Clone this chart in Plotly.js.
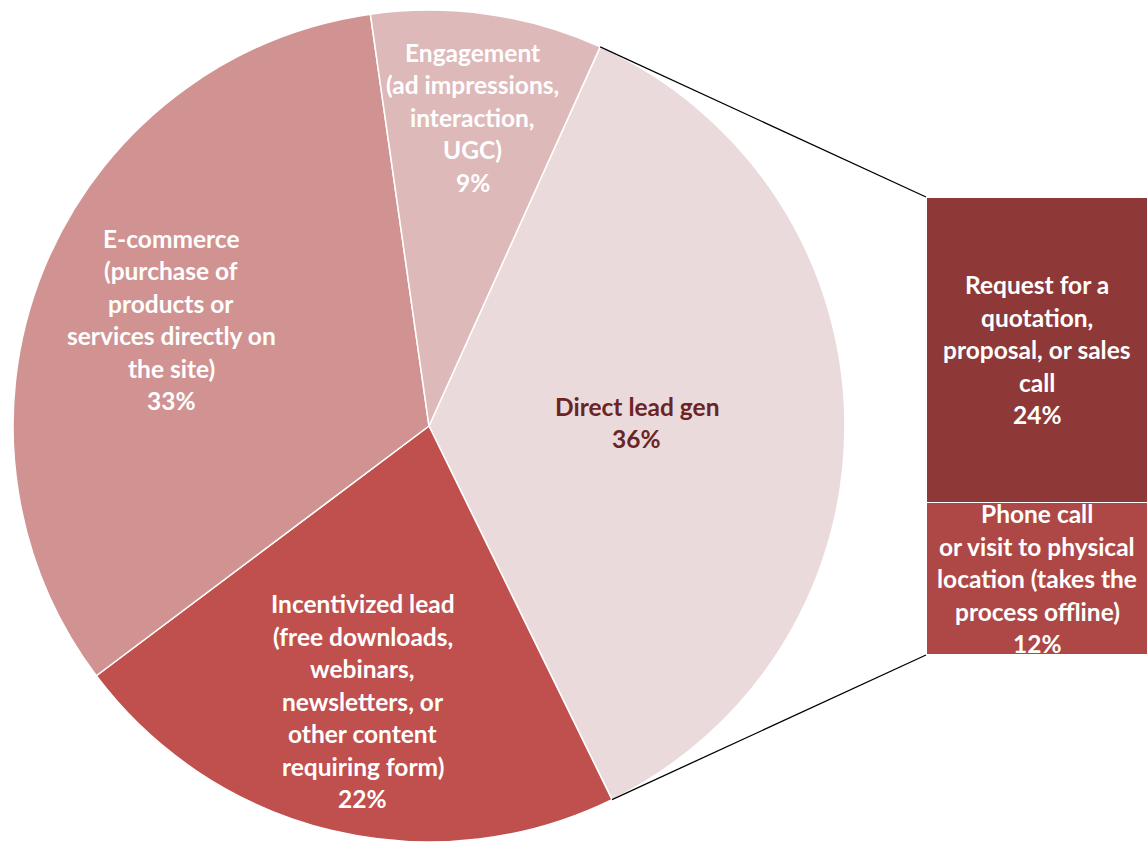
<!DOCTYPE html>
<html><head><meta charset="utf-8">
<script src="https://cdn.plot.ly/plotly-3.0.1.min.js"></script>
<style>html,body{margin:0;padding:0;background:#fff}#chart{width:1148px;height:846px}</style>
</head><body><div id="chart"></div><script>
// ---- data ----
const pieCategories = [
  "Direct lead gen",
  "Incentivized lead<br>(free downloads,<br>webinars,<br>newsletters, or<br>other content<br>requiring form)",
  "E-commerce<br>(purchase of<br>products or<br>services directly on<br>the site)",
  "Engagement<br>(ad impressions,<br>interaction,<br>UGC)"
];
const pieValues = [36, 22, 33, 9];
const barCategories = [
  "Phone call<br>or visit to physical<br>location (takes the<br>process offline)",
  "Request for a<br>quotation,<br>proposal, or sales<br>call"
];
const barValues = [12, 24];

// ---- styles ----
const W = 1148, H = 846;
const pieColors = ['#EBDADB', '#C0504D', '#D09392', '#DEB9B9'];
const pieTextColors = ['#6B2424', '#FFFFFF', '#FFFFFF', '#FFFFFF'];
const labelRadius = [0.50, 0.68, 0.67, 0.75];
const barColors = ['#AE4846', '#8E3937'];
const rotation = 24.3;
const pieDomX = [13 / W, 845 / W];
const pieDomY = [4 / H, 836 / H];
const barDomX = [926 / W, 1];
const barDomY = [(H - 655) / H, (H - 197) / H];
const LH = 32.5;
const FONT = {family: 'Lato, "Liberation Sans", sans-serif', size: 24.5, weight: 700};

const total = pieValues.reduce((a, b) => a + b, 0);
const barTotal = barValues.reduce((a, b) => a + b, 0);

// pie geometry (pixels)
const pw = (pieDomX[1] - pieDomX[0]) * W, ph = (pieDomY[1] - pieDomY[0]) * H;
const r = Math.min(pw, ph) / 2;
const cx = (pieDomX[0] + pieDomX[1]) / 2 * W;
const cy = (1 - (pieDomY[0] + pieDomY[1]) / 2) * H;
const d2r = Math.PI / 180;
function pt(angDeg, rad) {
  return [cx + rad * Math.sin(angDeg * d2r), cy - rad * Math.cos(angDeg * d2r)];
}

const annotations = [];
function addLines(lines, base, color) {
  const n = lines.length;
  lines.forEach((ln, j) => {
    annotations.push(Object.assign({
      text: ln, showarrow: false, xanchor: 'center', yanchor: 'middle',
      yshift: ((n - 1) / 2 - j) * LH,
      font: Object.assign({}, FONT, {color: color})
    }, base));
  });
}

let cum = rotation;
const sliceAngles = [];
pieValues.forEach((v, i) => {
  const a0 = cum, a1 = cum + v / total * 360;
  sliceAngles.push([a0, a1]);
  const mid = (a0 + a1) / 2;
  const p = pt(mid, labelRadius[i] * r);
  const lines = (pieCategories[i] + '<br>' + Math.round(v / total * 100) + '%').split('<br>');
  addLines(lines, {xref: 'paper', yref: 'paper', x: p[0] / W, y: 1 - p[1] / H}, pieTextColors[i]);
  cum = a1;
});

let bc = 0;
barValues.forEach((v, i) => {
  const lines = (barCategories[i] + '<br>' + Math.round(v / total * 100) + '%').split('<br>');
  addLines(lines, {xref: 'x', yref: 'y', x: 0, y: bc + v / 2}, '#FFFFFF');
  bc += v;
});

// connector lines from exploded slice (first) to bar
const pStart = pt(sliceAngles[0][0], r);
const pEnd = pt(sliceAngles[0][1], r);
const barTopY = barDomY[1];
const barBotY = barDomY[0];
const shapes = [
  {type: 'line', xref: 'paper', yref: 'paper', x0: pStart[0] / W, y0: 1 - pStart[1] / H, x1: barDomX[0], y1: barTopY, line: {color: '#000', width: 1.3}},
  {type: 'line', xref: 'paper', yref: 'paper', x0: pEnd[0] / W, y0: 1 - pEnd[1] / H, x1: barDomX[0], y1: barBotY, line: {color: '#000', width: 1.3}}
];

const traces = [{
  type: 'pie', values: pieValues, labels: pieCategories.map(s => s.replace(/<br>/g, ' ')),
  sort: false, direction: 'clockwise', rotation: rotation,
  marker: {colors: pieColors, line: {color: '#FFFFFF', width: 1.5}},
  textinfo: 'none', hoverinfo: 'none',
  domain: {x: pieDomX, y: pieDomY}
}];
barValues.forEach((v, i) => {
  traces.push({
    type: 'bar', x: [0], y: [v], width: 1, xaxis: 'x', yaxis: 'y',
    marker: {color: barColors[i], line: {color: '#FFFFFF', width: 1.5}},
    hoverinfo: 'none', textposition: 'none'
  });
});

const layout = {
  width: W, height: H, margin: {l: 0, r: 0, t: 0, b: 0},
  paper_bgcolor: '#FFFFFF', plot_bgcolor: 'rgba(0,0,0,0)',
  showlegend: false, barmode: 'stack', hovermode: false,
  xaxis: {domain: barDomX, range: [-0.5, 0.5], visible: false, fixedrange: true},
  yaxis: {domain: barDomY, range: [0, barTotal], visible: false, fixedrange: true},
  annotations: annotations, shapes: shapes
};
Plotly.newPlot('chart', traces, layout, {displayModeBar: false, staticPlot: true});
</script></body></html>
